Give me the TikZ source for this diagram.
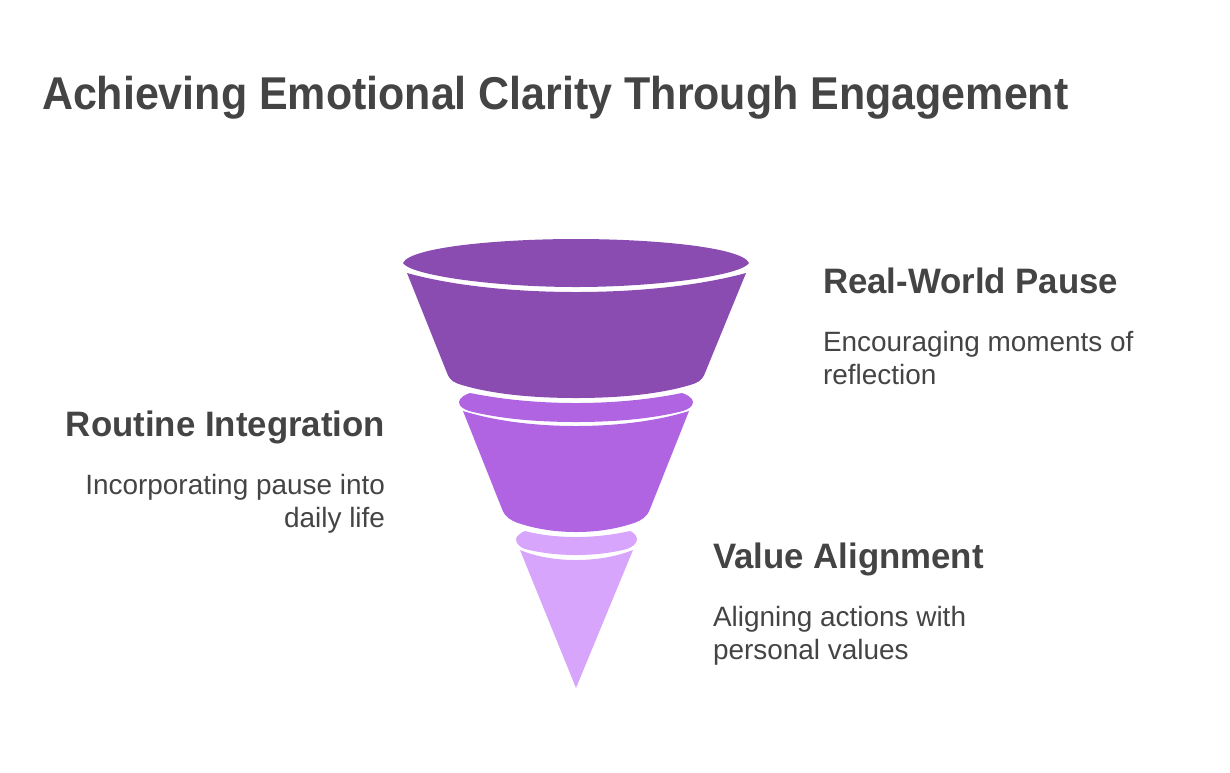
\documentclass[tikz,border=0pt]{standalone}
\usepackage{fontspec}
\setmainfont{Liberation Sans}
\definecolor{ink}{HTML}{444444}
\definecolor{deep}{HTML}{8A4CB0}
\definecolor{mid}{HTML}{B164E2}
\definecolor{pale}{HTML}{D7A5FB}
\tikzset{
  x=0.75pt,y=-0.75pt,
  txt/.style={inner sep=0pt,outer sep=0pt,text=ink},
  titletxt/.style={txt,anchor=base west,xscale=0.934,font=\fontsize{34.5}{40}\selectfont\bfseries},
  headleft/.style={txt,anchor=base west,xscale=0.985,font=\fontsize{26.5}{30}\selectfont\bfseries},
  headright/.style={txt,anchor=base east,xscale=0.985,font=\fontsize{26.5}{30}\selectfont\bfseries},
  descleft/.style={txt,anchor=base west,font=\fontsize{20.95}{25}\selectfont},
  descright/.style={txt,anchor=base east,font=\fontsize{20.95}{25}\selectfont},
}
\begin{document}
\begin{tikzpicture}
\useasboundingbox (0,0) rectangle (1230,772);
% top band
\fill[deep] (403,263) .. controls (410,247) and (500,239) .. (576,239) .. controls (652,239) and (742,247) .. (749,263) .. controls (742,275) and (660,287) .. (576,287) .. controls (492,287) and (410,275) .. (403,263) -- cycle;
\fill[deep] (407,273) .. controls (450,285) and (510,292) .. (576,292) .. controls (642,292) and (702,285) .. (746,273) -- (705,373) .. controls (702,381) and (697,383) .. (690,385) .. controls (660,394) and (620,398) .. (576,398) .. controls (532,398) and (492,394) .. (462,385) .. controls (455,383) and (450,381) .. (447,373) -- cycle;
% middle band
\fill[mid] (470,393) .. controls (500,399) and (535,403) .. (576,403) .. controls (617,403) and (652,399) .. (682,393) .. controls (686,394) and (693,398) .. (693,402) .. controls (693,407) and (688,409) .. (683,411) .. controls (655,418) and (620,422) .. (576,422) .. controls (532,422) and (497,418) .. (469,411) .. controls (464,409) and (459,407) .. (459,402) .. controls (459,398) and (466,394) .. (470,393) -- cycle;
\fill[mid] (463,411) .. controls (495,421) and (535,426) .. (576,426) .. controls (617,426) and (657,421) .. (689,411) -- (650,509) .. controls (647,517) and (642,520) .. (634,523) .. controls (616,529) and (597,532) .. (576,532) .. controls (555,532) and (536,529) .. (518,523) .. controls (510,520) and (505,517) .. (502,509) -- cycle;
% bottom band
\fill[pale] (525,531) .. controls (540,535) and (558,537) .. (576,537) .. controls (594,537) and (612,535) .. (630,531) .. controls (633,532) and (637,536) .. (637,539) .. controls (637,544) and (632,547) .. (627,549) .. controls (611,553) and (594,555) .. (576,555) .. controls (558,555) and (541,553) .. (525,549) .. controls (520,547) and (516,544) .. (516,539) .. controls (516,536) and (522,532) .. (525,531) -- cycle;
\fill[pale] (520,550) .. controls (537,557) and (556,560) .. (576,560) .. controls (596,560) and (615,557) .. (633,550) -- (576,688) -- cycle;
% texts
\node[titletxt] (title) at (42,109) {Achieving Emotional Clarity Through Engagement};
\node[headleft] (pausehead) at (823,293) {Real-World Pause};
\node[descleft] (pausea) at (823,351) {Encouraging moments of};
\node[descleft] (pauseb) at (823,384) {reflection};
\node[headright] (routinehead) at (385,436) {Routine Integration};
\node[descright] (routinea) at (385,494) {Incorporating pause into};
\node[descright] (routineb) at (385,527) {daily life};
\node[headleft] (valuehead) at (713,568) {Value Alignment};
\node[descleft] (valuea) at (713,626) {Aligning actions with};
\node[descleft] (valueb) at (713,659) {personal values};
\end{tikzpicture}
\end{document}
